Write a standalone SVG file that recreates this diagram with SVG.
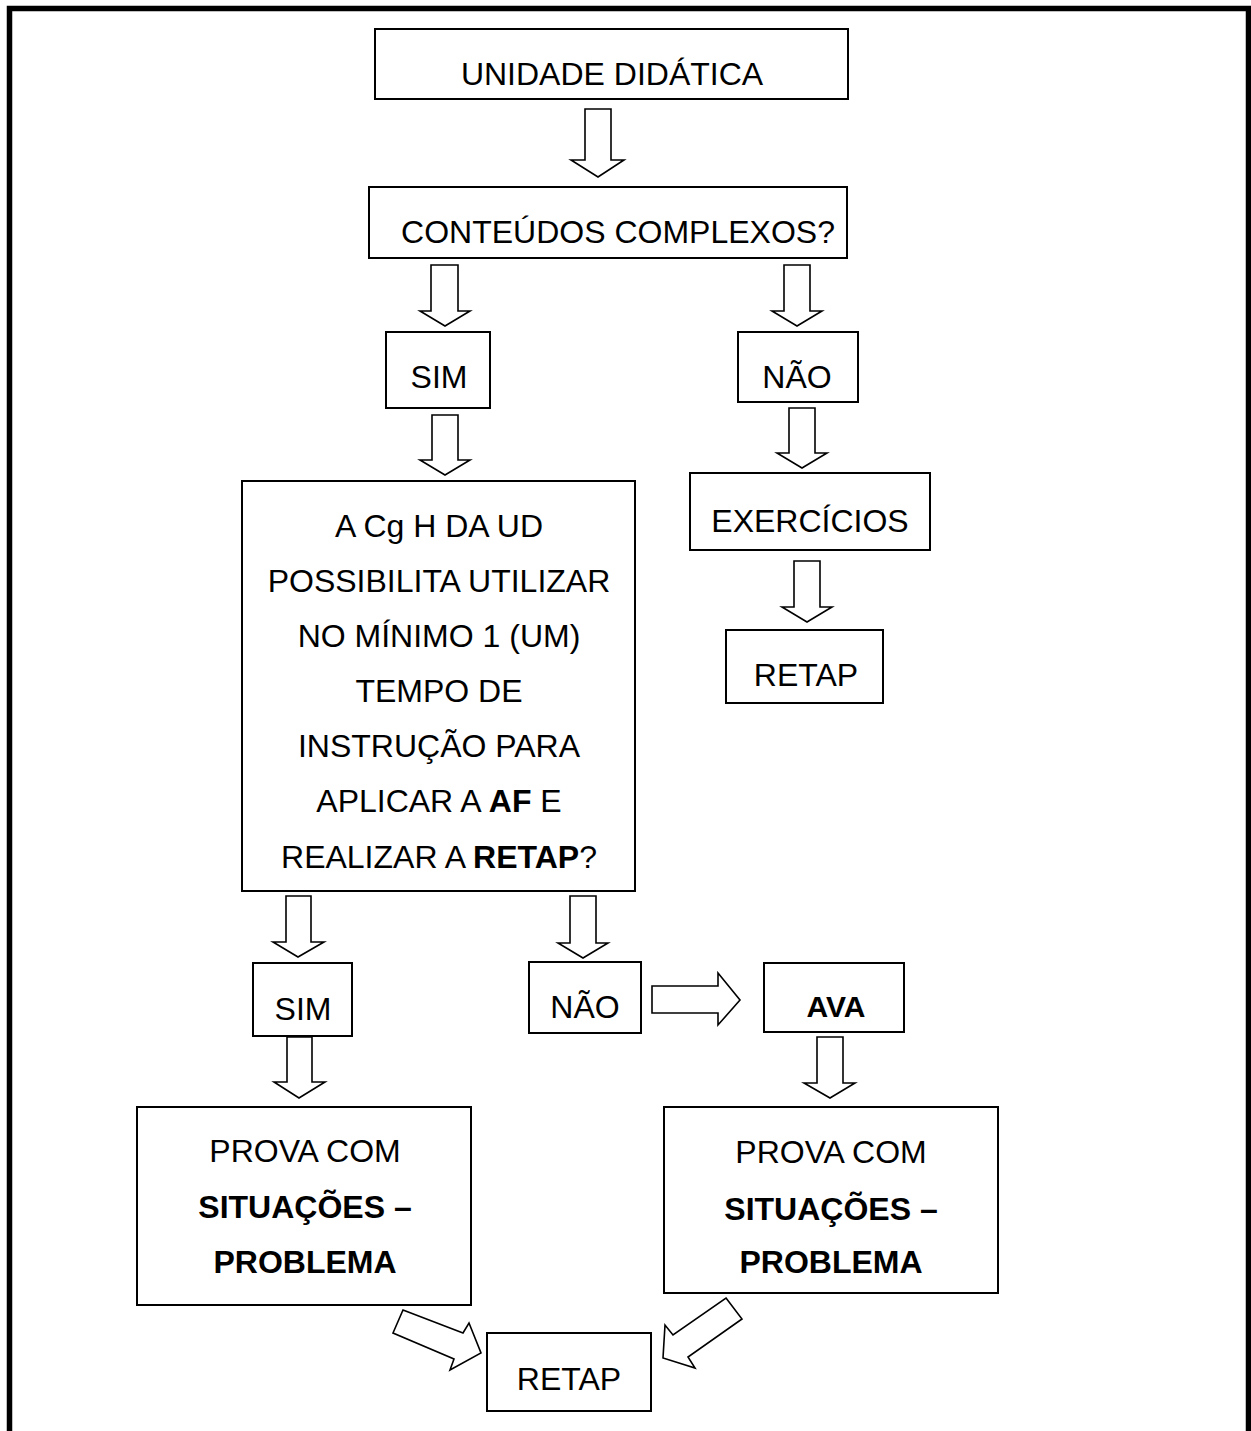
<svg xmlns="http://www.w3.org/2000/svg" width="1251" height="1431" viewBox="0 0 1251 1431">
<style>
.box{fill:#fff;stroke:#000;stroke-width:2}
.arr{fill:#fff;stroke:#000;stroke-width:1.6;stroke-linejoin:miter}
text{font-family:"Liberation Sans",Arial,sans-serif;font-size:32px;fill:#000;text-anchor:middle}
.b{font-weight:bold}
</style>
<rect x="0" y="0" width="1251" height="1431" fill="#fff"/>
<path d="M9.5,1431 V8.5 H1248.5 V1431" fill="none" stroke="#000" stroke-width="5.5"/>
<g id="connectors">
<polygon class="arr" points="585,109 611,109 611,160 624,160 598,177 571,160 585,160"/>
<polygon class="arr" points="431,265 458,265 458,311 470,311 445,326 420,311 431,311"/>
<polygon class="arr" points="784,265 810,265 810,311 822,311 797,326 772,311 784,311"/>
<polygon class="arr" points="432,415 458,415 458,460 470,460 445,475 420,460 432,460"/>
<polygon class="arr" points="789,408 815,408 815,453 827,453 802,468 777,453 789,453"/>
<polygon class="arr" points="794,561 820,561 820,607 832,607 807,622 782,607 794,607"/>
<polygon class="arr" points="286,896 311,896 311,942 324,942 298,957 273,942 286,942"/>
<polygon class="arr" points="570,896 596,896 596,943 608,943 583,958 558,943 570,943"/>
<polygon class="arr" points="652,986 718,986 718,973 740,1000 718,1025 718,1013 652,1013"/>
<polygon class="arr" points="287,1037 312,1037 312,1082 325,1082 299,1098 274,1082 287,1082"/>
<polygon class="arr" points="817,1037 843,1037 843,1083 855,1083 830,1098 804,1083 817,1083"/>
<polygon class="arr" points="403,1310 463,1333 469,1323 481,1353 450,1370 454,1359 393,1333"/>
<polygon class="arr" points="726,1298 742,1319 688,1357 695,1368 663,1358 665,1325 673,1335"/>
</g>
<g id="n-unidade"><rect class="box" x="375" y="29" width="473" height="70"/><text x="612" y="85">UNIDADE DIDÁTICA</text></g>
<g id="n-conteudos"><rect class="box" x="369" y="187" width="478" height="71"/><text x="618" y="243">CONTEÚDOS COMPLEXOS?</text></g>
<g id="n-sim1"><rect class="box" x="386" y="332" width="104" height="76"/><text x="439" y="388">SIM</text></g>
<g id="n-nao1"><rect class="box" x="738" y="332" width="120" height="70"/><text x="797" y="388">NÃO</text></g>
<g id="n-exercicios"><rect class="box" x="690" y="473" width="240" height="77"/><text x="810" y="532">EXERCÍCIOS</text></g>
<g id="n-retap1"><rect class="box" x="726" y="630" width="157" height="73"/><text x="806" y="686">RETAP</text></g>
<g id="n-question"><rect class="box" x="242" y="481" width="393" height="410"/>
<text x="439" y="537">A Cg H DA UD</text>
<text x="439" y="592">POSSIBILITA UTILIZAR</text>
<text x="439" y="647">NO MÍNIMO 1 (UM)</text>
<text x="439" y="702">TEMPO DE</text>
<text x="439" y="757">INSTRUÇÃO PARA</text>
<text x="439" y="812">APLICAR A <tspan class="b">AF</tspan> E</text>
<text x="439" y="868">REALIZAR A <tspan class="b">RETAP</tspan>?</text>
</g>
<g id="n-sim2"><rect class="box" x="253" y="963" width="99" height="73"/><text x="303" y="1020">SIM</text></g>
<g id="n-nao2"><rect class="box" x="529" y="962" width="112" height="71"/><text x="585" y="1018">NÃO</text></g>
<g id="n-ava"><rect class="box" x="764" y="963" width="140" height="69"/><text class="b" x="836" y="1017" style="font-size:30px">AVA</text></g>
<g id="n-prova1"><rect class="box" x="137" y="1107" width="334" height="198"/>
<text x="305" y="1162">PROVA COM</text>
<text class="b" x="305" y="1218">SITUAÇÕES –</text>
<text class="b" x="305" y="1273">PROBLEMA</text>
</g>
<g id="n-prova2"><rect class="box" x="664" y="1107" width="334" height="186"/>
<text x="831" y="1163">PROVA COM</text>
<text class="b" x="831" y="1220">SITUAÇÕES –</text>
<text class="b" x="831" y="1273">PROBLEMA</text>
</g>
<g id="n-retap2"><rect class="box" x="487" y="1333" width="164" height="78"/><text x="569" y="1390">RETAP</text></g>
</svg>
